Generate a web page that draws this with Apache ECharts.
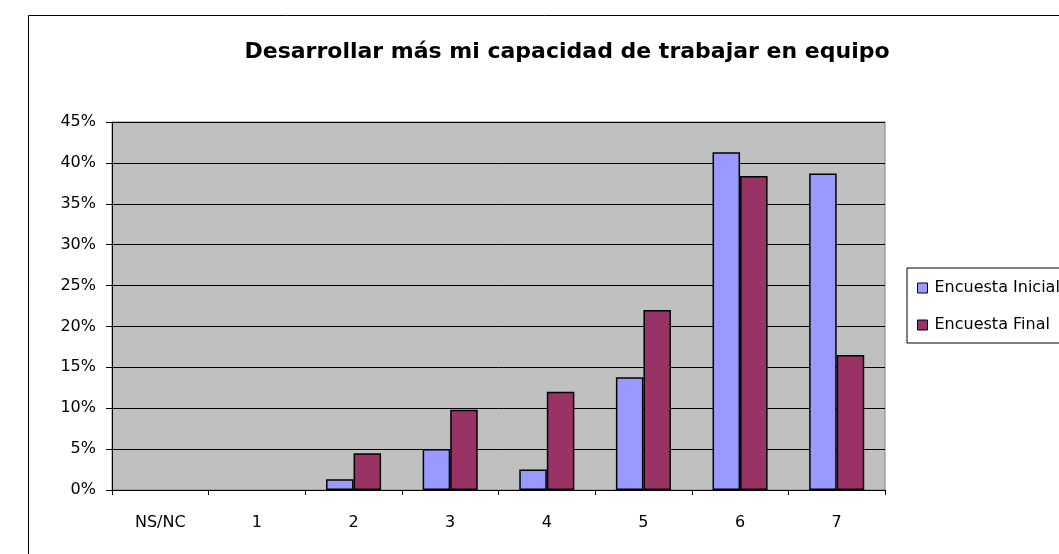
<!DOCTYPE html>
<html>
<head>
<meta charset="utf-8">
<script src="https://cdn.jsdelivr.net/npm/echarts@6/dist/echarts.min.js"></script>
<style>
  html,body{margin:0;padding:0;background:#fff;}
  #chart{width:1059px;height:554px;}
</style>
</head>
<body>
<div id="chart"></div>
<script>
var categories = ['NS/NC', '1', '2', '3', '4', '5', '6', '7'];
var inicial = [0, 0, 1.3, 5.0, 2.5, 13.8, 41.3, 38.7];
var final = [0, 0, 4.5, 9.8, 12.0, 22.0, 38.4, 16.5];
var yTicks = [0, 5, 10, 15, 20, 25, 30, 35, 40, 45];

// zero bars get no outline (the original shows nothing there)
function toBars(arr){
    return arr.map(function(v){
        return v === 0 ? {value: 0, itemStyle: {borderWidth: 0}} : v;
    });
}

var myChart = echarts.init(document.getElementById('chart'));
var option = {
    animation: false,
    backgroundColor: '#fff',
    title: {
        text: 'Desarrollar más mi capacidad de trabajar en equipo',
        left: 562,
        top: 36,
        textAlign: 'center',
        textStyle: {fontFamily: 'DejaVu Sans', fontSize: 22, fontWeight: 'bold', color: '#000'}
    },
    legend: {
        orient: 'vertical',
        left: 907,
        top: 268,
        itemWidth: 10,
        itemHeight: 10,
        itemGap: 21,
        padding: [12, 10, 10, 10],
        borderColor: '#000',
        borderWidth: 1,
        textStyle: {fontFamily: 'DejaVu Sans', fontSize: 16, color: '#000', padding: [0, 0, 0, 2]},
        data: [
            {name: 'Encuesta Inicial', icon: 'rect', itemStyle: {borderColor: '#000', borderWidth: 1}},
            {name: 'Encuesta Final', icon: 'rect', itemStyle: {borderColor: '#000', borderWidth: 1}}
        ]
    },
    graphic: [{
        type: 'rect',
        shape: {x: 28.5, y: 15.5, width: 1200, height: 700},
        style: {fill: null, stroke: '#000', lineWidth: 1},
        silent: true
    }],
    grid: {left: 112, top: 122, width: 773, height: 368, show: true, backgroundColor: '#c0c0c0', borderColor: '#808080', borderWidth: 1},
    xAxis: {
        type: 'category',
        data: categories,
        axisLine: {lineStyle: {color: '#000', width: 1}},
        axisTick: {show: true, inside: false, length: 5, lineStyle: {color: '#000'}},
        axisLabel: {fontFamily: 'DejaVu Sans', fontSize: 16, color: '#000', margin: 25}
    },
    yAxis: {
        type: 'value',
        min: yTicks[0],
        max: yTicks[yTicks.length - 1],
        interval: 5,
        axisLine: {show: true, lineStyle: {color: '#000', width: 1}},
        axisTick: {show: true, length: 6, lineStyle: {color: '#000'}},
        axisLabel: {fontFamily: 'DejaVu Sans', fontSize: 16, color: '#000', margin: 16, formatter: '{value}%'},
        splitLine: {show: true, lineStyle: {color: '#000', width: 1}}
    },
    series: [
        {
            name: 'Encuesta Inicial',
            type: 'bar',
            data: toBars(inicial),
            barGap: '0%',
            barCategoryGap: '43%',
            itemStyle: {color: '#9999ff', borderColor: '#000', borderWidth: 1.5}
        },
        {
            name: 'Encuesta Final',
            type: 'bar',
            data: toBars(final),
            itemStyle: {color: '#993366', borderColor: '#000', borderWidth: 1.5}
        }
    ]
};
myChart.setOption(option);
</script>
</body>
</html>
